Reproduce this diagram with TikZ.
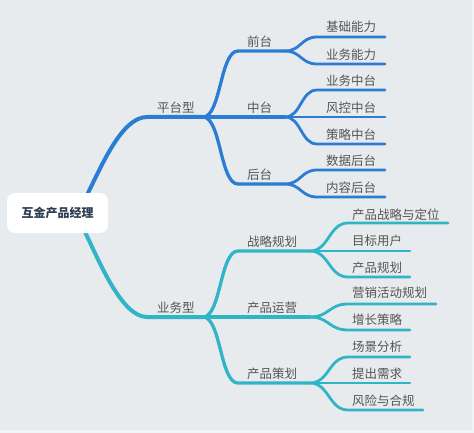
\documentclass[tikz,border=0pt]{standalone}
\usepackage{fontspec}
\newfontfamily\cjk{Noto Sans CJK SC}
\definecolor{bgout}{HTML}{F2F3F5}
\definecolor{bgin}{HTML}{E8EBEE}
\definecolor{bluebr}{HTML}{2A7DD2}
\definecolor{cyanbr}{HTML}{30B4C6}
\definecolor{labtxt}{HTML}{555555}
\definecolor{roottxt}{HTML}{2C3E50}
\tikzset{
  lab/.style={anchor=west, inner sep=0pt, text=labtxt, font=\cjk\fontsize{12.5}{15}\selectfont},
  rootbox/.style={fill=white, rounded corners=8pt, minimum width=101pt, minimum height=40pt, inner sep=0pt, text=roottxt, font=\cjk\bfseries\fontsize{12}{14}\selectfont},
  trunk/.style={line width=4pt, line cap=round},
  mid/.style={line width=3.3pt, line cap=round},
  leaf/.style={line width=2.8pt, line cap=round},
  ub/.style={draw=bluebr},
  lb/.style={draw=cyanbr},
}
\begin{document}
\begin{tikzpicture}[x=1pt,y=-1pt]
\fill[bgout] (0,0) rectangle (474,433);
\fill[bgin] (0,0) rectangle (472,430);
\useasboundingbox (0,0) rectangle (474,433);

% joints and ends
\coordinate (rt) at (87,195);
\coordinate (rb) at (85,232);
\coordinate (A) at (147,117);
\coordinate (Aj) at (203,117);
\coordinate (B) at (147,317);
\coordinate (Bj) at (203,317);

\coordinate (q1) at (238,51);  \coordinate (q1e) at (285,51);
\coordinate (q2e) at (285,117);
\coordinate (q3) at (238,184); \coordinate (q3e) at (285,184);

\coordinate (l1s) at (317,37);  \coordinate (l1e) at (385,37);
\coordinate (l2s) at (317,64);  \coordinate (l2e) at (385,64);
\coordinate (l3s) at (317,90);  \coordinate (l3e) at (385,90);
\coordinate (l4e) at (385,117);
\coordinate (l5s) at (317,144); \coordinate (l5e) at (385,144);
\coordinate (l6s) at (317,170); \coordinate (l6e) at (385,170);
\coordinate (l7s) at (317,197); \coordinate (l7e) at (385,197);

\coordinate (r1) at (238,251); \coordinate (r1e) at (310,251);
\coordinate (r2e) at (310,317);
\coordinate (r3) at (238,383); \coordinate (r3e) at (310,383);

\coordinate (m1s) at (348,223); \coordinate (m1e) at (448,223);
\coordinate (m2e) at (410,251);
\coordinate (m3s) at (348,277); \coordinate (m3e) at (410,277);
\coordinate (m4s) at (348,304); \coordinate (m4e) at (436,304);
\coordinate (m5s) at (348,330); \coordinate (m5e) at (410,330);
\coordinate (m6s) at (348,357); \coordinate (m6e) at (410,357);
\coordinate (m7e) at (410,383);
\coordinate (m8s) at (348,410); \coordinate (m8e) at (423,410);

% upper branches
\draw[trunk,ub] (rt) .. controls (102,165) and (122,117) .. (A) -- (Aj);
\draw[mid,ub] (Aj) .. controls +(18,0) and +(-18,0) .. (q1) -- (q1e);
\draw[mid,ub] (Aj) -- (q2e);
\draw[mid,ub] (Aj) .. controls +(18,0) and +(-18,0) .. (q3) -- (q3e);
\draw[leaf,ub] (q1e) .. controls +(16,0) and +(-16,0) .. (l1s) -- (l1e);
\draw[leaf,ub] (q1e) .. controls +(16,0) and +(-16,0) .. (l2s) -- (l2e);
\draw[leaf,ub] (q2e) .. controls +(16,0) and +(-16,0) .. (l3s) -- (l3e);
\draw[leaf,ub] (q2e) -- (l4e);
\draw[leaf,ub] (q2e) .. controls +(16,0) and +(-16,0) .. (l5s) -- (l5e);
\draw[leaf,ub] (q3e) .. controls +(16,0) and +(-16,0) .. (l6s) -- (l6e);
\draw[leaf,ub] (q3e) .. controls +(16,0) and +(-16,0) .. (l7s) -- (l7e);

% lower branches
\draw[trunk,lb] (rb) .. controls (100,263) and (122,317) .. (B) -- (Bj);
\draw[mid,lb] (Bj) .. controls +(18,0) and +(-18,0) .. (r1) -- (r1e);
\draw[mid,lb] (Bj) -- (r2e);
\draw[mid,lb] (Bj) .. controls +(18,0) and +(-18,0) .. (r3) -- (r3e);
\draw[leaf,lb] (r1e) .. controls +(19,0) and +(-19,0) .. (m1s) -- (m1e);
\draw[leaf,lb] (r1e) -- (m2e);
\draw[leaf,lb] (r1e) .. controls +(19,0) and +(-19,0) .. (m3s) -- (m3e);
\draw[leaf,lb] (r2e) .. controls +(19,0) and +(-19,0) .. (m4s) -- (m4e);
\draw[leaf,lb] (r2e) .. controls +(19,0) and +(-19,0) .. (m5s) -- (m5e);
\draw[leaf,lb] (r3e) .. controls +(19,0) and +(-19,0) .. (m6s) -- (m6e);
\draw[leaf,lb] (r3e) -- (m7e);
\draw[leaf,lb] (r3e) .. controls +(19,0) and +(-19,0) .. (m8s) -- (m8e);

% root
\node[rootbox] (root) at (57.5,213) {互金产品经理};

% labels
\node[lab] (n1) at (157,108) {平台型};
\node[lab] (n11) at (247,42) {前台};
\node[lab] (n12) at (247,108) {中台};
\node[lab] (n13) at (247,175) {后台};
\node[lab] (n111) at (326,27) {基础能力};
\node[lab] (n112) at (326,55) {业务能力};
\node[lab] (n121) at (326,81) {业务中台};
\node[lab] (n122) at (326,108) {风控中台};
\node[lab] (n123) at (326,135) {策略中台};
\node[lab] (n131) at (326,161) {数据后台};
\node[lab] (n132) at (326,188) {内容后台};

\node[lab] (n2) at (157,308) {业务型};
\node[lab] (n21) at (247,242) {战略规划};
\node[lab] (n22) at (247,308) {产品运营};
\node[lab] (n23) at (247,374) {产品策划};
\node[lab] (n211) at (352,215) {产品战略与定位};
\node[lab] (n212) at (352,241) {目标用户};
\node[lab] (n213) at (352,268) {产品规划};
\node[lab] (n221) at (352,293) {营销活动规划};
\node[lab] (n222) at (352,320) {增长策略};
\node[lab] (n231) at (352,347) {场景分析};
\node[lab] (n232) at (352,374) {提出需求};
\node[lab] (n233) at (352,401) {风险与合规};
\end{tikzpicture}
\end{document}
